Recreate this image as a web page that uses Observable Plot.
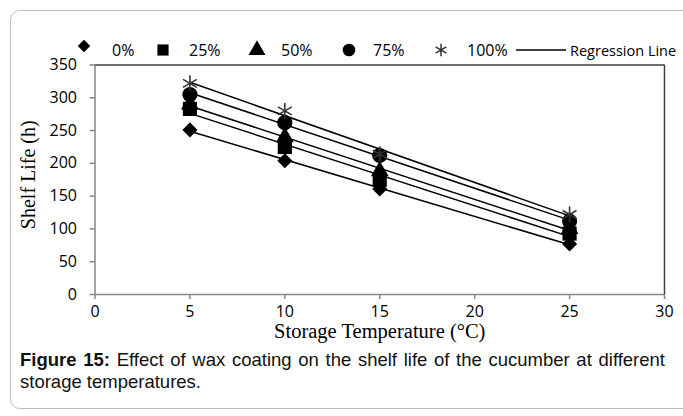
<!DOCTYPE html>
<html><head><meta charset="utf-8">
<script src="https://cdn.jsdelivr.net/npm/d3@7"></script>
<script src="https://cdn.jsdelivr.net/npm/@observablehq/plot@0.6"></script>
<style>
body{margin:0;background:#fff;}
#wrap{position:relative;width:683px;height:416px;overflow:hidden;background:#fff;}
#border{position:absolute;left:10px;top:10px;width:700px;height:399px;border:1px solid #bdbdbd;border-radius:10px;box-sizing:border-box;}
#chart{position:absolute;left:0;top:0;}
#legend{position:absolute;left:0;top:0;}
.cap{position:absolute;left:20px;width:645px;font-family:"Liberation Sans",Arial,sans-serif;font-size:18.5px;line-height:22px;white-space:nowrap;color:#111;}
</style></head><body>
<div id="wrap">
<div id="border"></div>
<div id="chart"></div>
<svg id="legend" width="683" height="64"></svg>
<div class="cap" style="top:349px;text-align:justify;text-align-last:justify;"><b>Figure 15:</b> Effect of wax coating on the shelf life of the cucumber at different</div>
<div class="cap" style="top:371px;">storage temperatures.</div>
</div>
<script>
// ---- data ----
const temps = [5, 10, 15, 25];
const series = ["0%", "25%", "50%", "75%", "100%"];
const life0 = [251, 204, 161, 77];
const life25 = [283, 225, 175, 93];
const life50 = [290, 240, 188, 100];
const life75 = [305, 262, 212, 112];
const life100 = [322, 280, 214, 122];
const xTicks = [0, 5, 10, 15, 20, 25, 30];
const yTicks = [0, 50, 100, 150, 200, 250, 300, 350];
const legendLine = "Regression Line";

const seriesValues = [life0, life25, life50, life75, life100];
const data = series.flatMap((s, i) => temps.map((t, j) => ({series: s, temp: t, life: seriesValues[i][j]})));

const symbols = ["diamond2", "square", "triangle", "circle", "asterisk"];
const radii = [6.8, 8, 6.6, 7.6, 7.6];

const dotMarks = series.map((s, i) => {
  const opts = {x: "temp", y: "life", symbol: "series", r: radii[i]};
  if (s === "100%") { opts.fill = "none"; opts.stroke = "#333"; opts.strokeWidth = 1.6; }
  else { opts.fill = "black"; opts.stroke = "none"; }
  return Plot.dot(data.filter(d => d.series === s), opts);
});

const chart = Plot.plot({
  width: 683, height: 349,
  marginLeft: 94.5, marginRight: 19, marginTop: 64.5, marginBottom: 55,
  x: {domain: [0, 30]},
  y: {domain: [0, 350]},
  symbol: {domain: series, range: symbols},
  style: {fontFamily: "Open Sans", fontSize: "16px", color: "black", background: "transparent"},
  marks: [
    Plot.ruleX([30], {stroke: "#404040", strokeWidth: 1.5}),
    Plot.ruleY([350], {stroke: "#404040", strokeWidth: 1.5}),
    Plot.ruleX([0], {stroke: "#868686", strokeWidth: 1.5}),
    Plot.ruleY([0], {stroke: "#868686", strokeWidth: 1.5}),
    Plot.axisX({ticks: xTicks, tickSize: 5, tickPadding: 6, stroke: "#868686", strokeWidth: 1.5, fill: "black", label: null}),
    Plot.axisY({ticks: yTicks, tickSize: 5, tickPadding: 13, stroke: "#868686", strokeWidth: 1.5, fill: "black", label: null}),
    Plot.linearRegressionY(data, {x: "temp", y: "life", z: "series", stroke: "black", strokeWidth: 1.5, ci: 0}),
    ...dotMarks,
    Plot.text(["Shelf Life (h)"], {frameAnchor: "left", textAnchor: "middle", rotate: -90, dx: -66, dy: -5, fontFamily: "Liberation Serif", fontSize: 20, fill: "black"}),
    Plot.text(["Storage Temperature (°C)"], {frameAnchor: "bottom", textAnchor: "middle", dy: 43, fontFamily: "Liberation Serif", fontSize: 20.5, fill: "black"})
  ]
});
document.getElementById("chart").appendChild(chart);

// ---- legend ----
const symbolTypes = [d3.symbolDiamond2, d3.symbolSquare, d3.symbolTriangle, d3.symbolCircle, d3.symbolAsterisk];
const legendSymX = [84, 163, 257, 349, 441];
const legendTextX = [112, 189, 281, 373, 467];
const legendSymY = [46, 50, 50, 50, 50];
const lg = d3.select("#legend");
series.forEach((s, i) => {
  const size = i === 4 ? 110 : (i === 0 ? 100 : 125);
  lg.append("path")
    .attr("d", d3.symbol().type(symbolTypes[i]).size(size)())
    .attr("transform", `translate(${legendSymX[i]},${legendSymY[i]})`)
    .attr("fill", i === 4 ? "none" : "black")
    .attr("stroke", i === 4 ? "#333" : "none")
    .attr("stroke-width", 1.5);
  lg.append("text").attr("x", legendTextX[i]).attr("y", 50).attr("dominant-baseline", "central")
    .attr("font-family", "Open Sans").attr("font-size", 16).attr("fill", "black").text(s);
});
lg.append("line").attr("x1", 516).attr("x2", 566).attr("y1", 50).attr("y2", 50).attr("stroke", "black").attr("stroke-width", 1.3);
lg.append("text").attr("x", 570).attr("y", 50).attr("dominant-baseline", "central")
  .attr("font-family", "Open Sans").attr("font-size", 14.5).attr("fill", "black").text(legendLine);
</script>
</body></html>
